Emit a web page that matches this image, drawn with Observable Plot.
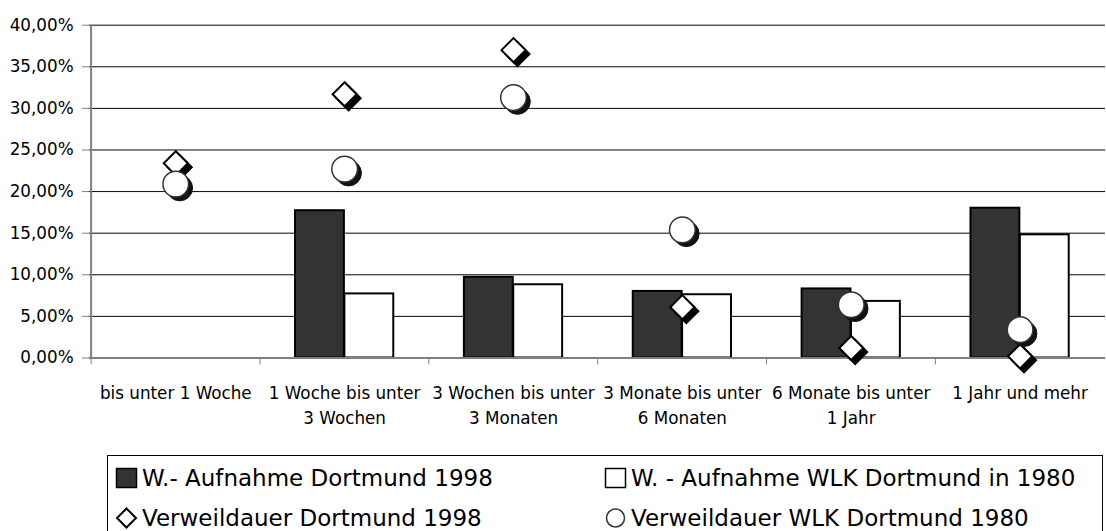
<!DOCTYPE html>
<html>
<head>
<meta charset="utf-8">
<script src="https://cdn.jsdelivr.net/npm/d3@7"></script>
<script src="https://cdn.jsdelivr.net/npm/@observablehq/plot@0.6"></script>
<style>
  html, body { margin: 0; padding: 0; background: #fff; overflow: hidden; width: 1106px; height: 531px; }
  #chart { position: absolute; left: 0; top: 0; }
  #legend {
    position: absolute; left: 107px; top: 455px; width: 996px; height: 110px;
    border: 1px solid #000; box-sizing: border-box;
    font-family: "DejaVu Sans", sans-serif; font-size: 23px; color: #000;
    padding-top: 2px;
  }
  .row { position: relative; height: 40px; line-height: 40px; }
  .item { position: absolute; top: 0; display: flex; align-items: center; white-space: nowrap; height: 40px; }
  .item svg { margin-right: 3px; flex: none; }
  .c1 { left: 7px; }
  .c2 { left: 496px; }
</style>
</head>
<body>
<div id="chart"></div>
<div id="legend"></div>
<script>
const categories = [
  "bis unter 1 Woche",
  "1 Woche bis unter\n3 Wochen",
  "3 Wochen bis unter\n3 Monaten",
  "3 Monate bis unter\n6 Monaten",
  "6 Monate bis unter\n1 Jahr",
  "1 Jahr und mehr"
];
const aufnahme1998 = [null, 17.7, 9.7, 8.0, 8.3, 18.0];
const aufnahme1980 = [null, 7.7, 8.8, 7.6, 6.8, 14.8];
const verweil1998 = [23.4, 31.7, 37.0, 6.1, 1.2, 0.2];
const verweil1980 = [20.9, 22.7, 31.3, 15.4, 6.4, 3.4];
const yTicks = [0, 5, 10, 15, 20, 25, 30, 35, 40];
const seriesNames = [
  "W.- Aufnahme Dortmund 1998",
  "W. - Aufnahme WLK Dortmund in 1980",
  "Verweildauer Dortmund 1998",
  "Verweildauer WLK Dortmund 1980"
];

const rows = (vals) => categories.map((c, i) => ({cat: c, v: vals[i]})).filter(d => d.v != null);

const W = 1120, H = 440, ML = 90, MR = 1, MT = 25, MB = 78;
const half = (W - ML - MR) / categories.length / 2;
const fmt = d => d.toFixed(2).replace(".", ",") + "%";

const chart = Plot.plot({
  width: W, height: H,
  marginLeft: ML, marginRight: MR, marginTop: MT, marginBottom: MB,
  style: {fontFamily: "DejaVu Sans, sans-serif", background: "white", overflow: "visible"},
  x: {type: "band", domain: categories, padding: 0, axis: null, label: null},
  y: {domain: [0, 40], axis: null, label: null},
  marks: [
    Plot.ruleY(yTicks.filter(d => d > 0), {stroke: "black", strokeWidth: 1}),
    Plot.barY(rows(aufnahme1998), {x: "cat", y: "v", fill: "#333333", stroke: "black", strokeWidth: 2, insetLeft: half - 50, insetRight: half}),
    Plot.barY(rows(aufnahme1980), {x: "cat", y: "v", fill: "white", stroke: "black", strokeWidth: 2, insetLeft: half, insetRight: half - 50}),
    Plot.ruleY([0], {stroke: "#808080", strokeWidth: 2}),
    Plot.ruleX([categories[0]], {dx: -half, stroke: "#808080", strokeWidth: 2}),
    Plot.axisY({ticks: yTicks, tickFormat: fmt, tickSize: 7, tickPadding: 9, fontSize: 17, stroke: "#808080", color: "black", label: null}),
    Plot.axisX({tickSize: 7, tickFormat: () => "", dx: -half, stroke: "#808080", label: null}),
    Plot.axisX({tickSize: 0, tickPadding: 23, fontSize: 17, lineHeight: 1.5, color: "black", label: null}),
    Plot.dot(rows(verweil1998), {x: "cat", y: "v", symbol: "diamond2", r: 11, fill: "black", stroke: "black", strokeWidth: 2, dx: 4, dy: 4}),
    Plot.dot(rows(verweil1998), {x: "cat", y: "v", symbol: "diamond2", r: 11, fill: "white", stroke: "black", strokeWidth: 2}),
    Plot.dot(rows(verweil1980), {x: "cat", y: "v", r: 13, fill: "#111", stroke: "#111", strokeWidth: 1, dx: 4, dy: 4}),
    Plot.dot(rows(verweil1980), {x: "cat", y: "v", r: 13, fill: "white", stroke: "#333", strokeWidth: 1.5})
  ]
});
document.getElementById("chart").appendChild(chart);

// legend
const swatches = [
  `<svg width="24" height="22"><rect x="1.5" y="1.5" width="20" height="19" fill="#333333" stroke="black" stroke-width="1.5"/></svg>`,
  `<svg width="24" height="22"><rect x="1.5" y="1.5" width="20" height="19" fill="white" stroke="black" stroke-width="1.5"/></svg>`,
  `<svg width="24" height="22"><path d="M11.5 1.5 L21 11 L11.5 20.5 L2 11 Z" fill="white" stroke="black" stroke-width="2"/></svg>`,
  `<svg width="24" height="22"><circle cx="11.5" cy="11" r="9" fill="white" stroke="#333" stroke-width="1.5"/></svg>`
];
const legend = document.getElementById("legend");
for (let r = 0; r < 2; r++) {
  const row = document.createElement("div");
  row.className = "row";
  for (let c = 0; c < 2; c++) {
    const k = r * 2 + c;
    const item = document.createElement("div");
    item.className = "item " + (c === 0 ? "c1" : "c2");
    item.innerHTML = swatches[k] + `<span>${seriesNames[k]}</span>`;
    row.appendChild(item);
  }
  legend.appendChild(row);
}
</script>
</body>
</html>
